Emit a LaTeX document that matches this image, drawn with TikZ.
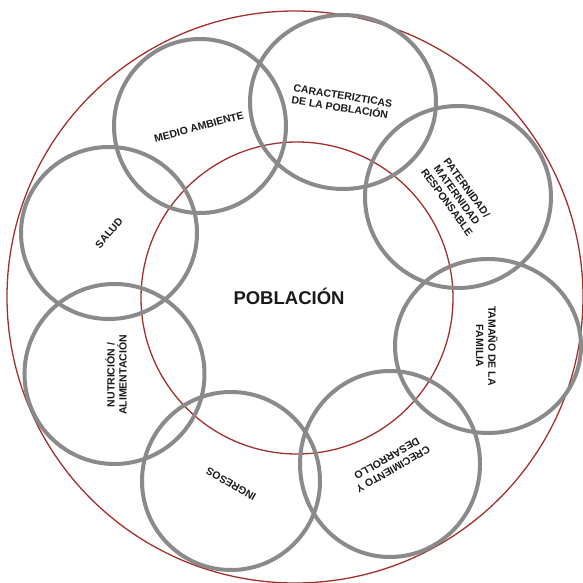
\documentclass[tikz,border=0pt]{standalone}
\usepackage{fontspec}
\setmainfont{Liberation Sans}
\definecolor{ringgray}{HTML}{8A8A8A}
\definecolor{ringred}{HTML}{A3302F}
\definecolor{txt}{HTML}{1A1A1A}
\begin{document}
\begin{tikzpicture}[x=1pt,y=1pt,
  redring/.style={draw=ringred,line width=1.3pt},
  grayring/.style={draw=ringgray,line width=4pt},
  lbl/.style={text=txt,font=\bfseries\fontsize{10.5}{12.2}\selectfont,align=center,inner sep=0pt},
  biglbl/.style={text=txt,font=\bfseries\fontsize{18.5}{22}\selectfont,inner sep=0pt}]
\useasboundingbox (0,0) rectangle (583,583);
% red rings
\draw[redring] (295,286) ellipse [x radius=288pt, y radius=286pt];
\draw[redring] (297,285) circle [radius=156pt];
% gray rings
\draw[grayring] (200,457) ellipse [x radius=86pt, y radius=87pt];
\draw[grayring] (343,481) ellipse [x radius=93pt, y radius=87pt];
\draw[grayring] (458,386) ellipse [x radius=93pt, y radius=91pt];
\draw[grayring] (488,237) ellipse [x radius=93pt, y radius=87pt];
\draw[grayring] (390,119) ellipse [x radius=90pt, y radius=93pt];
\draw[grayring] (231,102) ellipse [x radius=89pt, y radius=89pt];
\draw[grayring] (114.5,209) ellipse [x radius=90pt, y radius=90pt];
\draw[grayring] (109,350) ellipse [x radius=88pt, y radius=86pt];
% labels
\node[biglbl] (pob) at (289,287) {POBLACIÓN};
\node[lbl,rotate=15] (ma) at (199,456) {MEDIO AMBIENTE};
\node[lbl,rotate=-9,align=left] (car) at (342,481) {CARACTERIZTICAS\\DE LA POBLACIÓN};
\node[lbl,rotate=-54] (pat) at (457,388) {PATERNIDAD/\\MATERNIDAD\\RESPONSABLE};
\node[lbl,rotate=-90] (tam) at (487,237) {TAMAÑO DE LA\\FAMILIA};
\node[lbl,rotate=210] (cre) at (390,119) {CRECIMIENTO Y\\DESARROLLO};
\node[lbl,rotate=150] (ing) at (231,99) {INGRESOS};
\node[lbl,rotate=90] (nut) at (116,208) {NUTRICIÓN /\\ALIMENTACIÓN};
\node[lbl,rotate=50] (sal) at (109,350) {SALUD};
\end{tikzpicture}
\end{document}
